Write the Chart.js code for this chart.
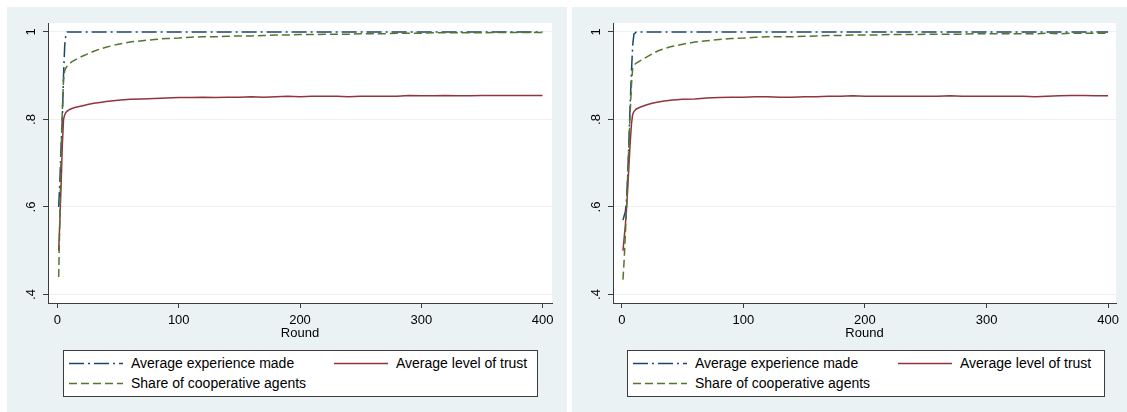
<!DOCTYPE html>
<html>
<head>
<meta charset="utf-8">
<script src="https://cdn.jsdelivr.net/npm/chart.js@4.4.0/dist/chart.umd.min.js"></script>
<style>
  html, body { margin:0; padding:0; background:#ffffff; width:1127px; height:412px; overflow:hidden; }
  .panel { position:absolute; background:#eaf2f3; }
  .panel canvas { position:absolute; left:0; top:0; }
  .legend { position:absolute; background:#ffffff; border:1px solid #3c3c3c; box-sizing:border-box;
            font-family:"Liberation Sans", Arial, sans-serif; font-size:14px; color:#000; }
  .legend .item { position:absolute; height:20px; line-height:20px; white-space:nowrap; }
  .legend svg { position:absolute; top:0; }
  .legend span { position:absolute; top:0; }
</style>
</head>
<body>
<div class="panel" id="p1" style="left:7px; top:7px; width:560px; height:405px;">
  <canvas id="c1" width="560" height="405"></canvas>
</div>
<div class="panel" id="p2" style="left:572px; top:7px; width:555px; height:405px;">
  <canvas id="c2" width="555" height="405"></canvas>
</div>
<script>
// ---- Data ----
const rounds = [1,2,3,4,5,6,7,8,9,10,12,15,20,25,30,35,40,50,60,70,80,90,
  100,110,120,130,140,150,160,170,180,190,200,210,220,230,240,250,260,270,280,290,
  300,310,320,330,340,350,360,370,380,390,400];

const seriesNames = ['Average experience made','Average level of trust','Share of cooperative agents'];
const xTicks = [0,100,200,300,400];
const yTicks = [0.4,0.6,0.8,1];
const yTickLabels = ['.4','.6','.8','1'];

// Left panel
const p1Experience = [0.60,0.66,0.74,0.80,0.90,0.97,0.995,1,1,1,1,1,1,1,1,1,1,1,1,1,1,1,
  1,1,1,1,1,1,1,1,1,1,1,1,1,1,1,1,1,1,1,1,
  1,1,1,1,1,1,1,1,1,1,1];
const p1Trust = [0.50,0.57,0.65,0.74,0.80,0.811,0.816,0.819,0.821,0.823,0.825,0.828,0.831,0.834,0.837,0.839,0.841,0.844,0.846,0.847,0.848,0.849,
  0.850,0.850,0.851,0.850,0.851,0.851,0.852,0.851,0.852,0.853,0.852,0.853,0.853,0.853,0.852,0.853,0.853,0.853,0.853,0.855,
  0.854,0.854,0.855,0.854,0.854,0.855,0.855,0.855,0.855,0.855,0.855];
const p1Share = [0.44,0.58,0.72,0.82,0.89,0.912,0.918,0.922,0.925,0.928,0.932,0.937,0.944,0.950,0.956,0.961,0.965,0.972,0.977,0.980,0.983,0.985,
  0.986,0.988,0.989,0.989,0.990,0.991,0.991,0.992,0.993,0.993,0.994,0.994,0.995,0.995,0.995,0.996,0.996,0.996,0.997,0.997,
  0.997,0.998,0.998,0.998,0.998,0.998,0.999,0.999,0.999,0.999,0.999];

// Right panel
const p2Experience = [0.57,0.58,0.59,0.62,0.68,0.76,0.84,0.91,0.97,0.995,1,1,1,1,1,1,1,1,1,1,1,1,
  1,1,1,1,1,1,1,1,1,1,1,1,1,1,1,1,1,1,1,1,
  1,1,1,1,1,1,1,1,1,1,1];
const p2Trust = [0.50,0.53,0.56,0.60,0.645,0.70,0.75,0.79,0.812,0.818,0.824,0.828,0.833,0.837,0.840,0.842,0.844,0.846,0.847,0.849,0.850,0.851,
  0.851,0.852,0.852,0.851,0.851,0.852,0.852,0.853,0.853,0.854,0.853,0.853,0.853,0.853,0.853,0.853,0.853,0.854,0.853,0.853,
  0.853,0.853,0.853,0.853,0.852,0.853,0.854,0.855,0.855,0.854,0.854];
const p2Share = [0.434,0.48,0.54,0.60,0.68,0.75,0.82,0.88,0.918,0.924,0.929,0.934,0.942,0.950,0.957,0.962,0.966,0.972,0.977,0.980,0.983,0.985,
  0.986,0.988,0.989,0.989,0.989,0.990,0.991,0.992,0.992,0.993,0.993,0.993,0.994,0.994,0.994,0.995,0.995,0.995,0.995,0.996,
  0.996,0.996,0.996,0.996,0.996,0.997,0.996,0.997,0.997,0.997,0.997];

// ---- Styles ----
const colors = ['#1a476f','#90353b','#55752f'];
const dashes = [[15,4,2,4],[],[8,4]];
const FONT = '"Liberation Sans", Arial, sans-serif';

const plotBg = {
  id:'plotBg',
  beforeDraw(chart){
    const a = chart.chartArea, ctx = chart.ctx;
    ctx.save(); ctx.fillStyle = '#ffffff';
    ctx.fillRect(a.left, a.top, a.right - a.left, a.bottom - a.top);
    ctx.restore();
  }
};
const yLabels = {
  id:'yLabels',
  afterDraw(chart){
    const s = chart.scales.y, ctx = chart.ctx;
    ctx.save();
    ctx.fillStyle = '#000';
    ctx.font = '13px ' + FONT;
    ctx.textAlign = 'center';
    ctx.textBaseline = 'alphabetic';
    yTicks.forEach((v,i) => {
      const y = s.getPixelForValue(v);
      ctx.save();
      ctx.translate(chart.chartArea.left - 13, y);
      ctx.rotate(-Math.PI/2);
      ctx.fillText(yTickLabels[i], 0, 0);
      ctx.restore();
    });
    ctx.restore();
  }
};

function makeChart(id, exp, trust, share, geo){
  const mk = (arr) => rounds.map((r,i) => ({x:r, y:arr[i]}));
  const data = [exp, trust, share];
  return new Chart(document.getElementById(id), {
    type:'line',
    data:{
      datasets: data.map((arr,k) => ({
        label: seriesNames[k],
        data: mk(arr),
        borderColor: colors[k],
        borderWidth: 1.5,
        borderDash: dashes[k],
        pointRadius: 0,
        tension: 0,
        fill: false,
        order: 3 - k
      }))
    },
    options:{
      responsive:false, animation:false,
      layout:{padding:{left:0, right:geo.padRight, top:16, bottom:geo.padBottom}},
      plugins:{legend:{display:false}, tooltip:{enabled:false}},
      scales:{
        x:{
          type:'linear', min:geo.xmin, max:geo.xmax,
          afterBuildTicks: s => { s.ticks = xTicks.map(v => ({value:v})); },
          afterFit: s => { s.height = 38; s.paddingLeft = 0; s.paddingRight = 0; },
          grid:{drawOnChartArea:false, drawTicks:true, tickLength:5, tickColor:'#3c3c3c', tickWidth:1},
          border:{display:true, color:'#3c3c3c', width:1},
          ticks:{color:'#000', font:{family:FONT, size:13}, padding:5, maxRotation:0, minRotation:0, autoSkip:false,
                 callback: v => String(v)},
          title:{display:true, text:'Round', color:'#000', font:{family:FONT, size:13}, padding:0}
        },
        y:{
          type:'linear', min:0.3806, max:1.0205,
          afterBuildTicks: s => { s.ticks = yTicks.map(v => ({value:v})); },
          afterFit: s => { s.width = 41; s.paddingTop = 0; s.paddingBottom = 0; },
          grid:{color:'#eaf2f3', lineWidth:1, drawTicks:true, tickLength:5, tickColor:'#3c3c3c', tickWidth:1},
          border:{display:true, color:'#3c3c3c', width:1},
          ticks:{display:false}
        }
      }
    },
    plugins:[plotBg, yLabels]
  });
}

makeChart('c1', p1Experience, p1Trust, p1Share, {xmin:-7.8, xmax:407.8, padRight:15, padBottom:71});
makeChart('c2', p2Experience, p2Trust, p2Share, {xmin:-7.2, xmax:406.5, padRight:11, padBottom:71});

// ---- Legends (HTML) ----
function buildLegend(panelId, geo){
  const panel = document.getElementById(panelId);
  const box = document.createElement('div');
  box.className = 'legend';
  box.style.left = geo.left + 'px'; box.style.top = geo.top + 'px';
  box.style.width = geo.width + 'px'; box.style.height = geo.height + 'px';
  const places = [
    {k:0, x:4, y:2},
    {k:1, x:269, y:2},
    {k:2, x:4, y:22}
  ];
  places.forEach(p => {
    const it = document.createElement('div');
    it.className = 'item';
    it.style.left = p.x + 'px'; it.style.top = p.y + 'px';
    const dash = dashes[p.k].length ? ` stroke-dasharray="${dashes[p.k].join(' ')}"` : '';
    it.innerHTML = `<svg width="56" height="20"><line x1="1" y1="10.5" x2="55" y2="10.5" stroke="${colors[p.k]}" stroke-width="1.5"${dash}/></svg>` +
                   `<span style="left:63px">${seriesNames[p.k]}</span>`;
    box.appendChild(it);
  });
  panel.appendChild(box);
}
buildLegend('p1', {left:56, top:343, width:475, height:47});
buildLegend('p2', {left:55, top:343, width:478, height:47});
</script>
</body>
</html>
